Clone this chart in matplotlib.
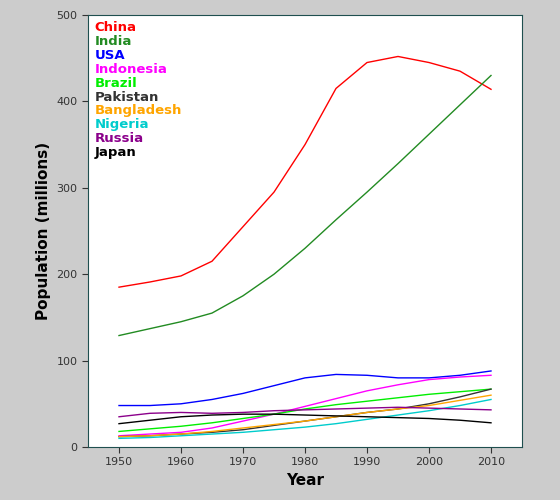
import matplotlib.pyplot as plt

years = [1950, 1955, 1960, 1965, 1970, 1975, 1980, 1985, 1990, 1995, 2000, 2005, 2010]
china = [185, 191, 198, 215, 255, 295, 350, 415, 445, 452, 445, 435, 414]
india = [129, 137, 145, 155, 175, 200, 230, 263, 295, 328, 362, 396, 430]
usa = [48, 48, 50, 55, 62, 71, 80, 84, 83, 80, 80, 83, 88]
indonesia = [13, 15, 17, 22, 30, 38, 47, 56, 65, 72, 78, 81, 83]
brazil = [18, 21, 24, 28, 33, 38, 44, 49, 53, 57, 61, 64, 67]
pakistan = [12, 13, 15, 17, 20, 25, 30, 35, 40, 44, 50, 58, 67]
bangladesh = [12, 13, 15, 18, 22, 26, 30, 35, 40, 44, 48, 54, 60]
nigeria = [10, 11, 13, 15, 17, 20, 23, 27, 32, 37, 42, 48, 55]
russia = [35, 39, 40, 39, 40, 42, 43, 44, 45, 46, 45, 44, 43]
japan = [27, 31, 35, 37, 38, 38, 37, 36, 35, 34, 33, 31, 28]

series = [("China", china, "#ff0000"), ("India", india, "#228b22"),
          ("USA", usa, "#0000ff"), ("Indonesia", indonesia, "#ff00ff"),
          ("Brazil", brazil, "#00ee00"), ("Pakistan", pakistan, "#333333"),
          ("Bangladesh", bangladesh, "#ffa500"), ("Nigeria", nigeria, "#00cccc"),
          ("Russia", russia, "#8b008b"), ("Japan", japan, "#000000")]

fig = plt.figure(figsize=(5.6, 5.0), dpi=100, facecolor="#cccccc")
ax = fig.add_axes([88/560, 53/500, 434/560, 432/500])
for name, vals, col in series:
    ax.plot(years, vals, color=col, lw=1)

for i, (name, vals, col) in enumerate(series):
    ax.text(0.015, 0.985 - i * 0.032, name, color=col, fontweight="bold",
            fontsize=9.5, transform=ax.transAxes, va="top")

ax.set_xlim(1945, 2015)
ax.set_ylim(0, 500)
ax.set_xticks(range(1950, 2011, 10))
ax.set_yticks(range(0, 501, 100))
ax.tick_params(labelsize=8, colors="#333333", length=4)
for s in ax.spines.values():
    s.set_color("#1f4f4f")
ax.set_xlabel("Year", fontweight="bold", fontsize=11)
ax.set_ylabel("Population (millions)", fontweight="bold", fontsize=11)
fig.savefig("out.png", facecolor=fig.get_facecolor())
